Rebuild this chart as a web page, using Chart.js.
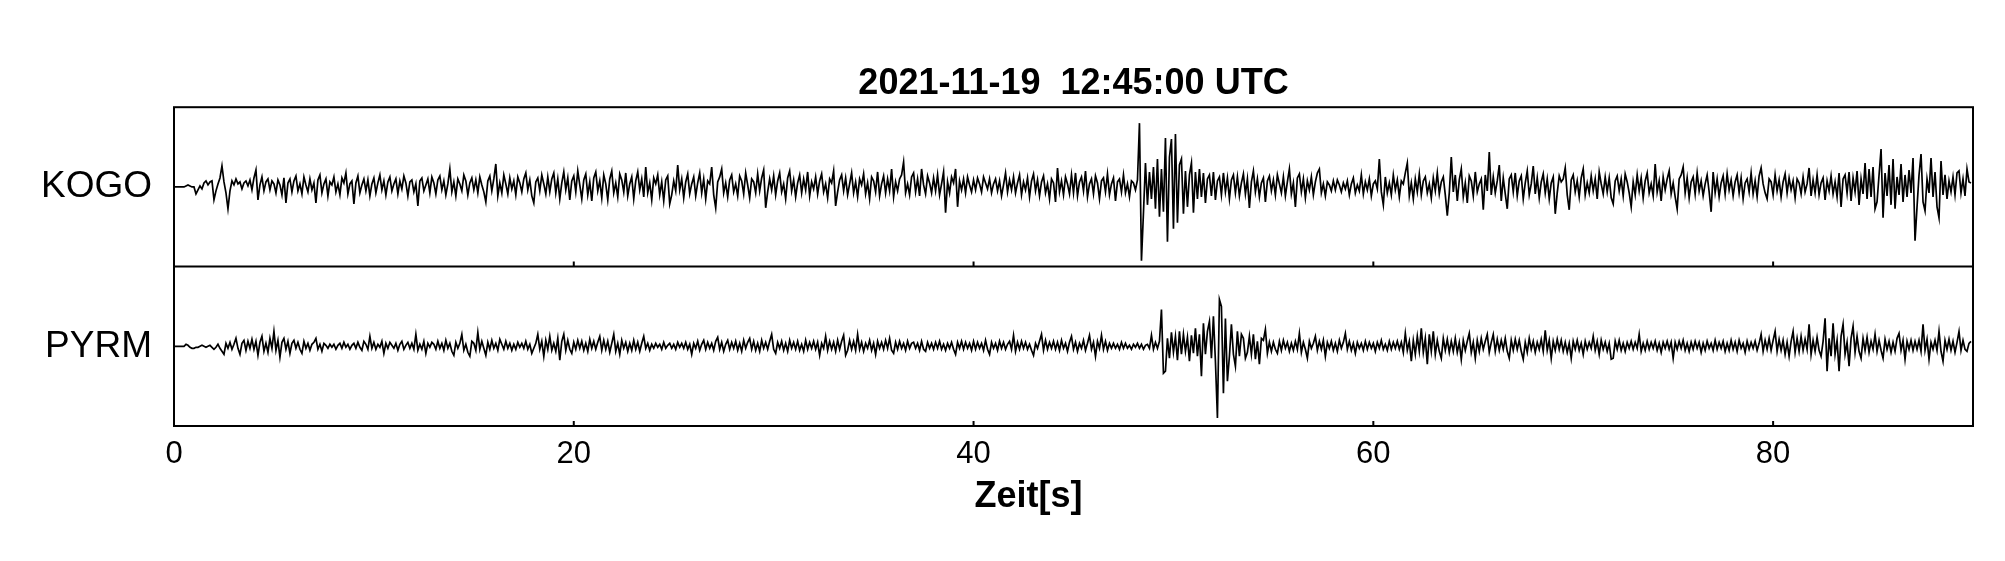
<!DOCTYPE html>
<html>
<head>
<meta charset="utf-8">
<script src="https://cdn.jsdelivr.net/npm/chart.js@4/dist/chart.umd.min.js"></script>
<style>
  html, body { margin: 0; padding: 0; background: #fff; }
  canvas { display: block; }
</style>
</head>
<body>
<canvas id="seis" width="2005" height="561"></canvas>
<script>
// Chart texts
const chartTitle = '2021-11-19  12:45:00 UTC';
const stations = ['KOGO', 'PYRM'];
const xTicks = [0, 20, 40, 60, 80];
const xLabel = 'Zeit[s]';
const dt = 0.1; // seconds between samples

// KOGO trace, one line = one second (10 samples)
const kogo = [
  0,0,0,0,0,0,1,2,1,0,
  0,-7,-3,1,-2,4,6,2,5,6,
  -13,-4,3,9,21,5,-6,-22,-4,6,
  2,8,3,5,-2,4,6,1,7,-3,
  9,17,-13,2,10,-4,5,8,-3,6,
  3,-6,7,2,-8,9,-16,4,8,-5,
  6,11,-4,3,-7,10,2,-5,8,-3,
  4,-16,7,12,-6,3,8,-9,5,2,
  10,-5,3,-8,9,4,14,-7,3,6,
  -17,4,11,-6,2,8,-4,7,-9,3,
  9,-6,4,12,-3,6,-8,5,10,-4,
  3,8,-7,6,-2,11,4,-9,5,7,
  -5,3,-19,6,9,-4,2,8,-6,10,
  4,-7,7,11,-3,6,-8,3,18,-5,
  5,-9,8,3,-4,12,6,-8,4,9,
  -3,7,-6,10,2,-5,-15,6,11,-4,
  8,23,-9,4,-6,12,3,-7,9,-2,
  6,-8,10,4,-5,8,14,-3,7,-9,
  -16,5,9,-4,12,3,-7,10,-5,8,
  14,-6,8,-12,4,15,-3,9,-13,6,
  11,-5,16,2,-12,7,13,-8,5,-14,
  9,15,-4,6,-11,12,3,-13,8,16,
  -6,4,-10,13,7,-5,14,-9,3,10,
  -12,6,15,-3,8,-10,20,-6,4,-13,
  9,3,12,-8,5,-14,7,11,-17,-8,
  6,-4,22,-3,8,-11,5,13,-7,3,
  10,-9,4,14,-6,8,-12,6,3,20,
  -8,-21,5,10,18,-6,4,-10,7,12,
  -5,3,-9,11,6,-7,14,2,-11,8,
  5,-6,13,-4,9,17,-21,-5,8,-3,
  11,-8,6,14,-5,3,-12,9,16,-4,
  7,-10,4,12,-6,8,-3,15,-9,5,
  -2,10,-7,6,13,-5,3,-11,8,4,
  16,-19,-5,7,12,-4,9,-8,3,14,
  -6,5,-10,8,2,13,-7,4,-12,10,
  6,-5,15,-9,3,11,-6,8,-4,18,
  -10,5,-4,8,12,25,-6,3,-8,10,
  14,-5,8,-9,18,2,-7,11,4,-6,
  9,-4,12,-8,3,15,-26,5,-6,10,
  4,18,-20,6,-3,8,-6,10,2,-5,
  7,-3,9,3,-5,10,4,-2,8,-6,
  3,8,-4,6,-9,2,14,-5,7,-3,
  10,-6,4,12,-8,5,-3,9,-10,6,
  13,-4,7,-9,5,11,-6,3,-12,8,
  4,-15,19,-5,6,-8,10,3,-7,12,
  -6,14,-9,5,10,-4,16,-10,3,8,
  -7,11,4,-12,6,9,-5,13,-8,3,
  9,-14,5,8,-5,12,-6,3,-10,6,
  4,-3,7,64,-74,-26,24,-18,15,-12,
  20,-22,28,-30,18,-25,49,-55,30,48,
  -42,53,-36,22,28,-27,16,-20,12,24,
  -26,15,-12,18,-10,14,-16,8,12,-9,
  15,-13,6,10,-8,14,-5,9,-12,7,
  12,-6,10,-9,4,13,-7,8,-21,5,
  16,-5,8,-10,4,9,-15,6,11,-4,
  7,-8,12,3,-6,10,-9,5,18,-7,
  4,-20,9,13,-5,8,-11,6,-3,10,
  -8,5,14,18,-6,3,-9,5,2,-4,
  6,-3,7,2,-5,4,-2,6,-8,3,
  9,-6,2,-4,12,-7,5,-3,8,-9,
  3,6,-2,28,-5,-18,10,-6,4,-8,
  12,-3,7,-10,6,3,14,24,-9,4,
  -12,8,-5,13,-8,6,10,-6,3,-11,
  9,-4,14,-7,5,10,-8,-29,-6,30,
  -5,12,-14,7,18,-10,4,-16,11,6,
  -9,15,-5,3,8,-23,12,-4,35,-8,
  10,-6,6,22,-14,9,-7,-22,8,12,
  -5,14,-9,6,11,-12,4,16,-8,3,
  21,-7,9,-11,5,13,-6,8,-12,4,
  10,-27,-6,11,5,8,19,-8,-23,7,
  12,-5,6,-10,9,18,-8,4,-6,11,
  -4,8,-12,15,3,-7,10,-5,9,-11,
  -17,6,11,-4,8,-9,13,5,-6,-20,
  5,-8,12,-4,9,-11,6,14,-6,3,
  -9,23,-5,6,-14,10,-3,8,16,-7,
  4,-10,-22,8,12,20,-6,9,-11,5,
  10,-7,14,-4,6,-9,3,12,-5,-25,
  15,-6,8,-10,4,11,-7,13,-3,7,
  -9,5,12,-6,9,-12,4,8,-5,14,
  -7,6,-10,11,19,3,-6,-12,8,5,
  -8,12,-4,7,-10,5,13,-6,9,-3,
  6,-11,8,4,-7,10,-5,3,19,-9,
  7,-6,12,-8,4,9,-13,6,-4,11,
  -7,5,-10,14,-20,8,12,-6,15,-14,
  9,-5,16,-18,8,-7,24,-12,18,-10,
  20,-22,-15,12,38,-31,14,-9,22,-18,
  28,-22,10,-8,23,-15,12,-10,17,-6,
  29,-54,-20,12,33,-15,-24,8,-6,29,
  -10,15,-20,-31,26,-8,12,-12,6,-5,
  10,-8,14,16,-6,8,-9,18,5,4
];

// PYRM trace, one line = one second (10 samples)
const pyrm = [
  0,0,0,0,0,0,2,1,-1,-2,
  -2,-1,-1,0,1,0,-1,0,1,-1,
  -3,-1,2,-2,-5,-8,3,-2,4,-3,
  2,8,-2,-8,3,6,-4,5,-2,7,
  -3,5,-9,4,10,-5,3,-6,8,-2,
  15,-4,6,-11,4,8,-3,5,-7,3,
  6,-2,4,-3,-7,5,-2,3,-4,2,
  4,8,-3,2,-5,3,1,-2,2,-1,
  2,-3,1,3,-2,4,-1,2,-3,1,
  3,-2,4,-1,-4,5,2,-3,10,-2,
  4,-3,2,-1,5,-7,3,-2,4,1,
  -2,3,-4,2,5,-3,1,4,-2,3,
  -3,12,-4,2,-3,5,-7,3,-1,4,
  2,-3,5,-2,3,-4,6,-2,3,-5,
  -9,4,-2,3,12,-4,2,-6,-10,5,
  3,-4,14,-3,5,-2,-9,4,-3,6,
  -2,3,-4,7,2,-3,5,-2,3,-4,
  2,-3,4,-1,3,-2,5,-3,2,-7,
  -2,3,12,-3,5,-10,6,-3,10,-4,
  3,-5,8,-14,5,12,-4,6,-3,-7,
  4,-3,6,-2,5,-4,3,-5,7,-2,
  5,-3,4,10,-4,6,-3,5,-6,3,
  12,-5,3,-8,6,-2,4,-5,3,-4,
  6,-3,4,-5,3,10,-2,3,-4,2,
  -2,3,-1,2,-3,4,-2,1,3,-2,
  2,-3,4,-1,3,-2,4,-3,2,-8,
  3,-2,5,-4,2,6,-3,4,-2,3,
  -4,5,9,-3,4,-5,2,6,-3,4,
  -2,5,-4,3,-5,6,-2,4,8,-3,
  5,-4,3,-5,6,-2,4,-3,5,12,
  -3,-7,4,-2,5,-4,3,-5,6,-2,
  4,-3,5,-4,2,-5,6,-3,4,-2,
  5,-3,4,-9,3,-2,10,-4,5,-3,
  4,-5,6,-3,5,11,-9,-4,6,-3,
  5,-4,12,-3,4,-5,3,-2,6,-4,
  3,-8,5,-2,4,-3,6,-2,8,-4,
  -7,4,-3,5,-2,3,-4,5,-2,3,
  4,-2,3,-4,5,-3,-5,4,-2,3,
  -3,4,-2,5,-3,2,-4,3,-2,4,
  -3,-8,4,-2,5,-3,4,-2,3,-4,
  5,-3,4,-2,3,-4,6,-3,-8,4,
  -2,3,-4,5,-2,4,-3,2,5,-3,
  11,-5,4,-3,5,-2,4,-3,2,-4,
  -9,3,-2,5,12,-4,6,-3,4,-2,
  5,-3,4,-4,6,-2,3,-5,4,10,
  -3,4,-5,3,-2,6,-4,3,11,-3,
  4,-10,5,-2,11,-3,5,-4,3,-2,
  3,-2,2,-3,4,-2,3,-2,1,-3,
  2,-1,3,-2,2,-3,1,2,-2,11,
  -3,4,-2,5,37,-27,-25,8,-12,14,
  -6,10,-14,15,-8,12,-5,9,-15,11,
  -7,18,-10,12,-30,23,-8,15,25,-12,
  30,-15,-72,47,40,-47,28,-35,-10,22,
  -8,-20,15,-10,12,8,-12,-6,10,-8,
  12,-13,5,-18,8,6,17,-7,4,-5,
  4,-3,-7,5,-4,6,-2,4,-5,3,
  -4,5,-3,13,-6,4,-3,-12,5,-2,
  3,10,-4,5,-3,6,-10,4,-2,5,
  -4,3,-5,6,-2,4,13,-3,5,-4,
  3,-7,4,-2,3,-4,5,-3,4,-2,
  3,-5,4,-2,6,-3,2,-4,5,-3,
  4,-2,5,-3,4,-6,13,-4,5,-15,
  6,-8,10,-5,18,-6,8,-18,12,-5,
  15,-8,6,-5,-12,8,-4,7,-6,5,
  -5,8,-6,4,-13,6,-4,5,13,-6,
  4,-12,6,-5,8,-3,5,12,-6,4,
  12,-5,7,-4,6,-3,8,-5,-12,6,
  -4,7,-3,6,-5,-13,4,-6,8,-3,
  5,-6,4,-3,7,-5,16,-4,6,-12,
  5,-4,7,-3,6,-5,4,-6,3,-12,
  5,-3,6,-4,3,-8,5,-3,4,-2,
  10,-4,5,-8,6,-3,4,-5,3,-13,
  -12,5,-3,6,-4,3,-5,4,-2,5,
  -3,4,-2,12,-5,3,-4,5,-3,4,
  -2,5,-4,3,-6,4,-2,5,-3,4,
  -12,4,-3,5,-2,6,-4,3,-5,4,
  -3,5,-2,4,-6,3,-4,5,-2,3,
  -4,6,-3,4,-2,5,-5,3,-4,6,
  -3,4,-5,6,-2,3,-6,5,-3,4,
  -2,5,-4,3,12,-5,6,-3,8,-4,
  6,15,-5,7,-4,6,-8,4,-10,5,
  15,-6,8,-5,10,-4,7,-3,22,-8,
  6,-5,9,-4,-10,5,28,-25,8,-10,
  23,-8,6,-25,10,22,-8,4,-20,8,
  20,-6,10,-5,-12,8,-4,9,-6,5,
  -3,12,-5,6,-4,-12,7,-3,5,-6,
  4,-5,8,13,-4,6,-13,5,-3,6,
  -4,5,-3,6,-5,22,-4,7,-13,4,
  -3,6,-4,15,-5,-15,6,-3,7,-4,
  5,-6,4,15,-4,6,-3,-5,3,5
];

const fontFamily = '"Liberation Sans", Arial, Helvetica, sans-serif';

// turn a sample list into {x, y} points along the time axis
function toPoints(samples) {
  return samples.map((v, i) => ({ x: i * dt, y: v }));
}

// frame, divider line, inward ticks and the axis label
const framePlugin = {
  id: 'frame',
  afterDraw(chart) {
    const ctx = chart.ctx;
    const area = chart.chartArea;
    const x = chart.scales.x;
    const mid = chart.scales.kogo.bottom;
    ctx.save();
    ctx.strokeStyle = '#000';
    ctx.lineWidth = 2;
    ctx.strokeRect(area.left, area.top, area.right - area.left, area.bottom - area.top);
    ctx.beginPath();
    ctx.moveTo(area.left, mid);
    ctx.lineTo(area.right, mid);
    xTicks.forEach(function (v) {
      const px = x.getPixelForValue(v);
      ctx.moveTo(px, mid);
      ctx.lineTo(px, mid - 5);
      ctx.moveTo(px, area.bottom);
      ctx.lineTo(px, area.bottom - 5);
    });
    ctx.stroke();
    ctx.fillStyle = '#000';
    ctx.font = 'bold 36px ' + fontFamily;
    ctx.textAlign = 'center';
    ctx.textBaseline = 'alphabetic';
    ctx.fillText(xLabel, x.getPixelForValue(42.75), 507);
    ctx.restore();
  }
};

function stationAxis(name) {
  return {
    type: 'linear',
    position: 'left',
    stack: 'traces',
    stackWeight: 1,
    min: -80,
    max: 80,
    afterBuildTicks: function (scale) { scale.ticks = [{ value: 0 }]; },
    afterFit: function (scale) { scale.width = 174; },
    grid: { display: false, drawTicks: false },
    border: { display: false },
    ticks: {
      padding: 22,
      color: '#000',
      font: { family: fontFamily, size: 37 },
      callback: function () { return name; }
    }
  };
}

const ctx = document.getElementById('seis').getContext('2d');
new Chart(ctx, {
  type: 'line',
  data: {
    datasets: [
      {
        label: stations[0],
        data: toPoints(kogo),
        yAxisID: 'kogo',
        borderColor: '#000',
        borderWidth: 1.7,
        pointRadius: 0,
        fill: false,
        tension: 0
      },
      {
        label: stations[1],
        data: toPoints(pyrm),
        yAxisID: 'pyrm',
        borderColor: '#000',
        borderWidth: 1.7,
        pointRadius: 0,
        fill: false,
        tension: 0
      }
    ]
  },
  options: {
    responsive: false,
    animation: false,
    devicePixelRatio: 1,
    layout: { padding: { left: 0, right: 32, top: 0, bottom: 0 } },
    plugins: {
      legend: { display: false },
      tooltip: { enabled: false },
      title: {
        display: true,
        fullSize: false,
        text: chartTitle,
        color: '#000',
        font: { family: fontFamily, size: 36, weight: 'bold' },
        padding: { top: 62, bottom: 2 }
      }
    },
    scales: {
      x: {
        type: 'linear',
        position: 'bottom',
        min: 0,
        max: 90,
        afterBuildTicks: function (scale) { scale.ticks = xTicks.map(v => ({ value: v })); },
        afterFit: function (scale) { scale.height = 135; },
        grid: { display: false, drawTicks: false },
        border: { display: false },
        ticks: {
          padding: 10,
          maxRotation: 0,
          color: '#000',
          font: { family: fontFamily, size: 31 }
        }
      },
      // stacked left axes are laid out last-first, so the lower panel comes first here
      pyrm: stationAxis(stations[1]),
      kogo: stationAxis(stations[0])
    }
  },
  plugins: [framePlugin]
});
</script>
</body>
</html>
